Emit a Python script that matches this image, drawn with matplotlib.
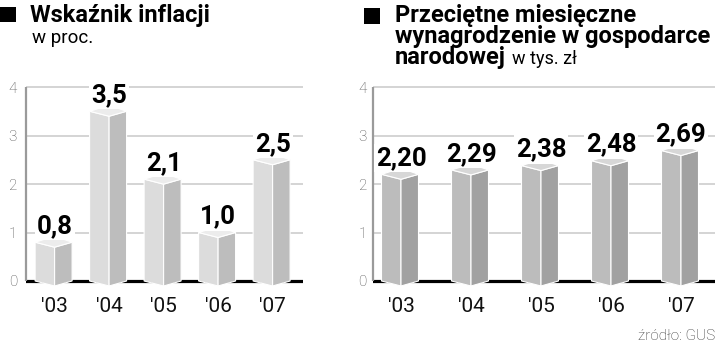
import matplotlib
matplotlib.use("Agg")
import matplotlib.pyplot as plt
from matplotlib.patches import Polygon, Rectangle
import numpy as np

# ---- data ----
years = ["'03", "'04", "'05", "'06", "'07"]
inflation = [0.8, 3.5, 2.1, 1.0, 2.5]
wages = [2.20, 2.29, 2.38, 2.48, 2.69]
yticks = [0, 1, 2, 3, 4]

W, H = 720, 345
FONT = ["Roboto", "DejaVu Sans"]
plt.rcParams["font.family"] = FONT

fig = plt.figure(figsize=(W / 100, H / 100), dpi=100)


def fx(px):
    return px / W


def fy(py):
    return 1 - py / H


PX_PER_UNIT = 48.5  # vertical pixels per unit
Y0_PX = 281         # pixel row of value 0
YMIN, YMAX = -0.25, 4.05


def make_axes(x_left_px, x_right_px, first_px, spacing_px):
    top_px = Y0_PX - YMAX * PX_PER_UNIT
    bot_px = Y0_PX - YMIN * PX_PER_UNIT
    ax = fig.add_axes([fx(x_left_px), fy(bot_px), (x_right_px - x_left_px) / W,
                       (bot_px - top_px) / H])
    ax.set_ylim(YMIN, YMAX)
    ax.set_xlim((x_left_px - first_px) / spacing_px, (x_right_px - first_px) / spacing_px)
    for s in ax.spines.values():
        s.set_visible(False)
    return ax


def draw_chart(ax, values, decimals, spacing_px, c_left, c_right, c_top, ypad):
    x = np.arange(len(values))
    xmin = ax.get_xlim()[0]
    # gridlines
    for g in yticks[1:]:
        ax.axhline(g, color="#c9c9c9", lw=1.1, zorder=1)
    # baseline
    ax.axhline(0, color="black", lw=2.3, zorder=2)
    # y axis line
    ax.vlines(xmin, 0, 4, color="#9a9a9a", lw=1.6, zorder=3, clip_on=False)
    wl = 19.5 / spacing_px
    wr = 17.5 / spacing_px
    d = 5 / PX_PER_UNIT
    d2 = 6 / PX_PER_UNIT
    for xi, v in zip(x, values):
        xl, xr = xi - wl, xi + wr
        left = Polygon([(xl, 0), (xi, -d), (xi, v - d), (xl, v)], closed=True,
                       facecolor=c_left, edgecolor="white", lw=0.8, zorder=4)
        right = Polygon([(xi, -d), (xr, 0), (xr, v), (xi, v - d)], closed=True,
                        facecolor=c_right, edgecolor="white", lw=0.8, zorder=4)
        top = Polygon([(xl, v), (xi, v - d), (xr, v), (xi, v + d2)], closed=True,
                      facecolor=c_top, edgecolor="white", lw=0.8, zorder=5)
        for p in (left, right, top):
            ax.add_patch(p)
        lab = f"{v:.{decimals}f}".replace(".", ",")
        ax.annotate(lab, (xi, v), xytext=(0, 6.5), textcoords="offset points",
                    ha="center", va="baseline", fontsize=18.5, fontweight="bold",
                    color="black", zorder=6,
                    bbox=dict(boxstyle="square,pad=0.08", fc="white", ec="none"))
    ax.set_xticks(x, years)
    ax.set_yticks(yticks, [str(t) for t in yticks])
    ax.tick_params(axis="x", length=0, pad=3, labelsize=15, labelcolor="#111111")
    ax.tick_params(axis="y", length=0, pad=ypad, labelsize=11, labelcolor="#555555")
    for t in ax.get_yticklabels():
        t.set_fontweight("light")


# left chart: inflation
ax1 = make_axes(26, 303, 54.6, 54.5)
draw_chart(ax1, inflation, 1, 54.5, "#dcdcdc", "#bdbdbd", "#ececec", 6.5)

# right chart: wages
ax2 = make_axes(373, 715, 401, 70)
draw_chart(ax2, wages, 2, 70, "#bcbcbc", "#a1a1a1", "#d7d7d7", 4.5)

# titles
fig.patches.append(Rectangle((fx(0), fy(22)), 16 / W, 15 / H, transform=fig.transFigure,
                             facecolor="black", edgecolor="none"))
fig.patches.append(Rectangle((fx(364), fy(24)), 16 / W, 16 / H, transform=fig.transFigure,
                             facecolor="black", edgecolor="none"))

fig.text(fx(30), fy(22), "Wskaźnik inflacji", fontsize=17, fontweight="bold", va="baseline")
fig.text(fx(32), fy(43), "w proc.", fontsize=13.5, va="baseline")

fig.text(fx(395), fy(22), "Przeciętne miesięczne", fontsize=17, fontweight="bold", va="baseline")
fig.text(fx(395), fy(43), "wynagrodzenie w gospodarce", fontsize=17, fontweight="bold", va="baseline")
fig.text(fx(395), fy(64), "narodowej", fontsize=17, fontweight="bold", va="baseline")
fig.text(fx(512), fy(64), "w tys. zł", fontsize=13, va="baseline")

fig.text(fx(715), fy(340), "źródło: GUS", fontsize=11, fontweight="light", color="#333333",
         ha="right", va="baseline")

fig.savefig("out.png", dpi=100)
